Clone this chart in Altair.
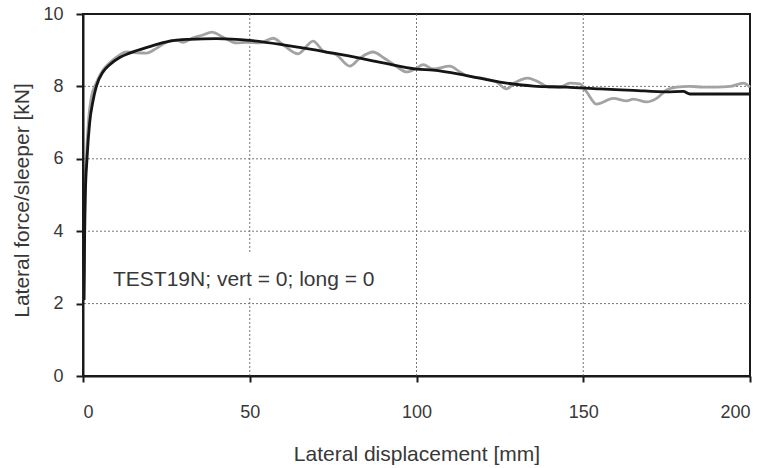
import altair as alt
import pandas as pd

# Test data (grey, measured) and fitted curve (black)
test_x = [0.3, 0.4, 0.5, 0.6, 1.0, 1.6, 2.5, 4, 6, 8, 11, 13, 16, 19, 22, 25, 28, 30, 33, 36,
          38.6, 42, 46, 49, 53, 57, 60, 64.5, 69, 72, 76, 80, 83, 87, 90, 94, 97, 100, 102, 105,
          110, 113, 115, 120, 124, 127, 129.5, 133.4, 136, 140, 143, 146, 149, 151, 154, 159,
          163, 165, 169, 172, 175, 178, 182, 186, 190, 194, 198, 200]
test_y = [2.1, 3.0, 4.0, 5.0, 6.0, 7.0, 7.7, 8.1, 8.45, 8.65, 8.87, 8.95, 8.93, 8.92, 9.05, 9.22,
          9.28, 9.22, 9.34, 9.42, 9.5, 9.36, 9.2, 9.22, 9.2, 9.33, 9.15, 8.9, 9.25, 8.98, 8.87,
          8.56, 8.78, 8.95, 8.8, 8.55, 8.4, 8.5, 8.6, 8.48, 8.56, 8.4, 8.3, 8.22, 8.12, 7.93, 8.1,
          8.23, 8.15, 7.98, 7.98, 8.09, 8.07, 7.85, 7.51, 7.67, 7.6, 7.65, 7.57, 7.67, 7.9, 7.98,
          8.0, 7.98, 7.98, 8.0, 8.09, 7.98]

fit_x = [0.3, 0.4, 0.5, 0.7, 1.2, 2, 3, 4, 6, 8, 11, 14, 20, 26, 32, 40, 50, 60, 70, 73, 83, 90,
         100, 105, 115, 125, 135, 145, 155, 165, 175, 180, 182, 200]
fit_y = [2.1, 3.0, 4.0, 5.0, 6.0, 7.0, 7.6, 8.0, 8.4, 8.6, 8.8, 8.92, 9.1, 9.25, 9.3, 9.32, 9.27,
         9.15, 9.0, 8.95, 8.78, 8.65, 8.48, 8.45, 8.3, 8.12, 8.01, 7.98, 7.93, 7.89, 7.85, 7.86,
         7.79, 7.79]

series_names = ["test", "fit"]
x_ticks = [0, 50, 100, 150, 200]
y_ticks = [0, 2, 4, 6, 8, 10]
x_grid = [50, 100, 150]
y_grid = [2, 4, 6, 8]
label_text = "TEST19N; vert = 0; long = 0"

rows = [{"x": a, "y": b, "s": "test", "o": i} for i, (a, b) in enumerate(zip(test_x, test_y))]
rows += [{"x": a, "y": b, "s": "fit", "o": i} for i, (a, b) in enumerate(zip(fit_x, fit_y))]
df = pd.DataFrame(rows)

font = "Liberation Sans"
txt_col = "#383838"
dark = "#1a1a1a"

xscale = alt.Scale(domain=[0, 200], nice=False)
yscale = alt.Scale(domain=[0, 10], nice=False)

xaxis = alt.Axis(values=x_ticks, title="Lateral displacement [mm]", grid=False,
                 domainColor=dark, domainWidth=2, tickColor=dark, tickWidth=2,
                 tickSize=6, labelPadding=21, labelFontSize=18, labelFont=font,
                 labelColor=txt_col, titleFont=font, titleFontSize=21, titleColor=txt_col,
                 titleFontWeight="normal", titleBaseline="alphabetic", titleY=84, zindex=1)
yaxis = alt.Axis(values=y_ticks, title="Lateral force/sleeper [kN]", grid=False,
                 domainColor=dark, domainWidth=2, tickColor=dark, tickWidth=2,
                 tickSize=7, labelPadding=13, labelFontSize=18, labelFont=font,
                 labelColor=txt_col, titleFont=font, titleFontSize=21, titleColor=txt_col,
                 titleFontWeight="normal", titleBaseline="alphabetic", titleX=-55, titleY=186,
                 zindex=1)

gx = alt.Chart(pd.DataFrame({"g": x_grid})).mark_rule(
    color="#777777", strokeDash=[2, 2], strokeWidth=1).encode(
    x=alt.X("g:Q", scale=xscale, axis=xaxis))
gy = alt.Chart(pd.DataFrame({"g": y_grid})).mark_rule(
    color="#777777", strokeDash=[2, 2], strokeWidth=1).encode(
    y=alt.Y("g:Q", scale=yscale, axis=yaxis))

lines = alt.Chart(df).mark_line(interpolate="monotone", strokeWidth=2.8).encode(
    x=alt.X("x:Q", scale=xscale, axis=xaxis),
    y=alt.Y("y:Q", scale=yscale, axis=yaxis),
    color=alt.Color("s:N", scale=alt.Scale(domain=series_names, range=["#a3a3a3", "#151515"]),
                    legend=None),
    order=alt.Order("o:Q"),
    detail="s:N",
)

ann = pd.DataFrame({"x": [8.0], "x2": [90.0], "y": [2.2], "y2": [3.4],
                    "tx": [9.0], "ty": [2.65], "t": [label_text]})
bg = alt.Chart(ann).mark_rect(color="white").encode(
    x=alt.X("x:Q", scale=xscale, axis=xaxis), x2="x2:Q",
    y=alt.Y("y:Q", scale=yscale, axis=yaxis), y2="y2:Q")
label = alt.Chart(ann).mark_text(align="left", baseline="middle", font=font, fontSize=21,
                                 color=txt_col).encode(
    x=alt.X("tx:Q", scale=xscale, axis=xaxis), y=alt.Y("ty:Q", scale=yscale, axis=yaxis),
    text="t:N")

chart = alt.layer(gx, gy, bg, lines, label).properties(
    width=667, height=362,
    background="white",
    autosize=alt.AutoSizeParams(type="none"),
    padding={"left": 83, "top": 14, "right": 19, "bottom": 92},
).configure_view(stroke=dark, strokeWidth=2)

chart.save("out.html", embed_options={"renderer": "svg", "actions": False})
